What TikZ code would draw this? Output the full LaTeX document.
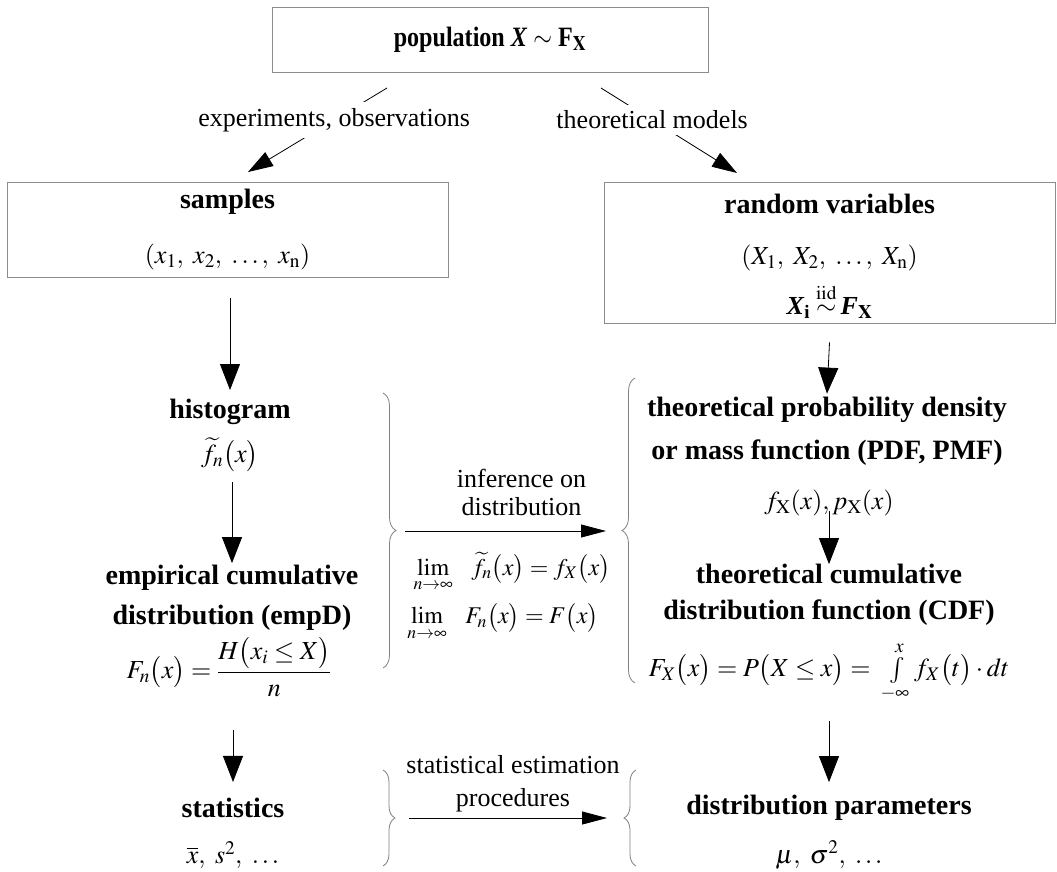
\documentclass[tikz,border=0pt]{standalone}
\usepackage{amsmath}
\usepackage{mathptmx}
\usepackage{fontspec}
\setmainfont{Liberation Serif}
\usetikzlibrary{arrows.meta}
\usetikzlibrary{decorations.pathreplacing}
\newcommand{\bigfont}{\fontsize{26}{31}\selectfont}
\newcommand{\ttlfont}{\fontsize{28}{34}\selectfont\bfseries}
\tikzset{
  every node/.style={font=\bigfont, inner sep=2pt},
  framebox/.style={draw=black!45, line width=0.9pt, inner sep=0pt},
  ttl/.style={font=\ttlfont, align=center},
  txt/.style={align=center},
  varr/.style={-{Triangle[length=26pt,width=20pt]}, line width=0.8pt},
  harr/.style={-{Triangle[length=25pt,width=13pt]}, line width=0.8pt},
  darr/.style={-{Triangle[length=25pt,width=16pt]}, line width=0.8pt},
  curly/.style={draw=black!50, line width=0.8pt, decorate, decoration={brace, amplitude=#1}},
}

\begin{document}
\begin{tikzpicture}[x=1pt, y=-1pt]
        \useasboundingbox (0,0) rectangle (1057,871);
        %boxes
        \node[framebox, minimum width=436pt, minimum height=65pt, font=\ttlfont] (pop) at (490,39.5) {\scalebox{0.86}[1]{population \textit{X} $\sim$ F$_{\mathbf{X}}$}};
        \node[framebox, minimum width=441pt, minimum height=95pt] (samples) at (227.5,229.5) {};
        \node[framebox, minimum width=451pt, minimum height=141pt] (rv) at (829.5,252.5) {};
        %box texts
        \node[ttl] (smptitle) at (227.5,202) {samples};
        \node[txt] (smpvec) at (227.5,257) {$(x_1,\ x_2,\ \ldots,\ x_{\mathrm{n}})$};
        \node[ttl] (rvtitle) at (829.5,204) {random variables};
        \node[txt] (rvvec) at (829.5,258) {$(X_1,\ X_2,\ \ldots,\ X_{\mathrm{n}})$};
        \node[txt] (rviid) at (829.5,301) {\textbf{\textit{X}}$_{\mathbf{i}}\stackrel{\mathrm{iid}}{\sim}$\,\textbf{\textit{F}}$_{\mathbf{X}}$};
        %left column
        \node[ttl] (hist) at (230,412) {histogram};
        \node[txt] (histf) at (230,455) {$\widetilde{f}_n\bigl(x\bigr)$};
        \node[ttl] (ecdf) at (232,598) {empirical cumulative\\[6pt]distribution (empD)};
        \node[txt, inner sep=0pt] (ecdff) at (229,667) {$F_n\bigl(x\bigr)=\dfrac{H\bigl(x_i\le X\bigr)}{n}$};
        \node[ttl] (stat) at (233,808) {statistics};
        \node[txt] (statv) at (233,855) {$\overline{x},\ s^2,\ \ldots$};
        %right column
        \node[ttl] (pdf) at (827,431) {theoretical probability density\\[9pt]or mass function (PDF, PMF)};
        \node[txt] (pdff) at (829,503) {$f_{\mathrm{X}}(x), p_{\mathrm{X}}(x)$};
        \node[ttl] (cdf) at (829,595) {theoretical cumulative\\[2pt]distribution function (CDF)};
        \node[txt, inner sep=0pt] (cdff) at (829,672) {$F_X\bigl(x\bigr)=P\bigl(X\le x\bigr)=\ \int\limits_{-\infty}^{x} f_X\bigl(t\bigr)\cdot dt$};
        \node[ttl] (par) at (829,808) {distribution parameters};
        \node[txt] (parv) at (829,855) {$\mu,\ \sigma^2,\ \ldots$};
        %middle texts
        \node[txt, font=\fontsize{24}{29}\selectfont] (lim1) at (512,572) {$\lim\limits_{n\to\infty}\;\;\; \widetilde{f}_n\bigl(x\bigr)=f_X\bigl(x\bigr)$};
        \node[txt, font=\fontsize{24}{29}\selectfont] (lim2) at (503,622) {$\lim\limits_{n\to\infty}\;\;\; F_n\bigl(x\bigr)=F\bigl(x\bigr)$};
        %braces
        \draw[curly=13pt] (383,393) -- (383,668);
        \draw[curly=13pt] (635,683) -- (635,378);
        \draw[curly=12pt] (383,770) -- (383,866);
        \draw[curly=12pt] (636,866) -- (636,770);
        \coordinate (infL) at (405,531);
        \coordinate (infR) at (606,531);
        \coordinate (estL) at (409,818);
        \coordinate (estR) at (607,818);
        \coordinate (popL) at (387,88);
        \coordinate (popR) at (601,88);
        \coordinate (smpT) at (248,172);
        \coordinate (rvT) at (737,173);
        %edges
        \draw[darr] (popL) -- (smpT) node[pos=0.38, fill=white, inner xsep=2pt, inner ysep=6pt] (obs) {experiments, observations};
        \draw[darr] (popR) -- (rvT) node[pos=0.376, fill=white, inner xsep=2pt, inner ysep=6pt] (mod) {theoretical models};
        \draw[varr] ([yshift=-21pt]hist.north |- samples.south) -- ([yshift=7pt]hist.north);
        \draw[varr] ([yshift=-19pt]rv.south) -- ([yshift=1pt]pdf.north);
        \draw[varr] ([yshift=-8pt]ecdf.north |- histf.south) -- (ecdf.north);
        \draw[varr] ([yshift=7pt]cdf.north |- pdff.south) -- ([yshift=-2pt]cdf.north);
        \draw[varr] ([yshift=-33pt]stat.north |- ecdff.south) -- ([yshift=14pt]stat.north);
        \draw[varr] ([yshift=-18pt]par.north |- cdff.south) -- ([yshift=11pt]par.north);
        \draw[harr] (infL) -- (infR) node[midway, above=13pt, xshift=16pt, txt] (inf) {inference on\\[-3pt]distribution};
        \draw[harr] (estL) -- (estR) node[midway, above=4pt, xshift=5pt, txt] (est) {statistical estimation\\[2pt]procedures};
\end{tikzpicture}
\end{document}
